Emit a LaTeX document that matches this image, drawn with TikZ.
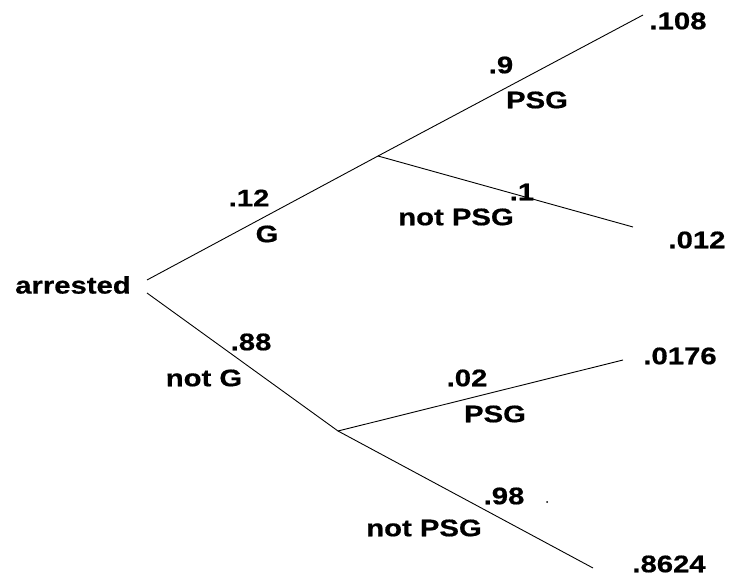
\documentclass[tikz,border=0pt]{standalone}
\usepackage{fontspec}
\setmainfont[FakeStretch=1.22,FakeBold=0.6]{Liberation Sans}
\begin{document}
\begin{tikzpicture}[x=1pt,y=-1pt,
  lbl/.style={inner sep=0pt, font=\fontsize{24}{28}\selectfont\bfseries},
  branch/.style={draw=black, line width=0.9pt}]
\useasboundingbox (0,0) rectangle (731,588);

% branch points of the tree
\coordinate (rootU) at (147,280);
\coordinate (rootL) at (147,293);
\coordinate (jG)    at (378,156);
\coordinate (jN)    at (338,431);
\coordinate (eGP)   at (643,15);
\coordinate (eGN)   at (633,227);
\coordinate (eNP)   at (623,360);
\coordinate (eNN)   at (593,568);

% connectors
\draw[branch] (rootU) -- (jG);
\draw[branch] (rootL) -- (jN);
\draw[branch] (jG) -- (eGP);
\draw[branch] (jG) -- (eGN);
\draw[branch] (jN) -- (eNP);
\draw[branch] (jN) -- (eNN);

% labels
\node[lbl] (arr)  at (73,285)  {arrested};
\node[lbl] (pG)   at (249,198) {.12};
\node[lbl] (G)    at (267,234) {G};
\node[lbl] (pNG)  at (251,342) {.88};
\node[lbl] (NG)   at (204,378) {not G};
\node[lbl] (p1)   at (501,65)  {.9};
\node[lbl] (psg1) at (537,100) {PSG};
\node[lbl] (p2)   at (522,192) {.1};
\node[lbl] (npsg1) at (456,217) {not PSG};
\node[lbl] (p3)   at (467,378) {.02};
\node[lbl] (psg2) at (495,414) {PSG};
\node[lbl] (p4)   at (504,496) {.98};
\node[lbl] (npsg2) at (424,528) {not PSG};

% outcome probabilities
\node[lbl] (r1) at (678,21)  {.108};
\node[lbl] (r2) at (697,240) {.012};
\node[lbl] (r3) at (680,356) {.0176};
\node[lbl] (r4) at (669,564) {.8624};

% small stray mark
\fill (547,502) circle (1pt);
\end{tikzpicture}
\end{document}
